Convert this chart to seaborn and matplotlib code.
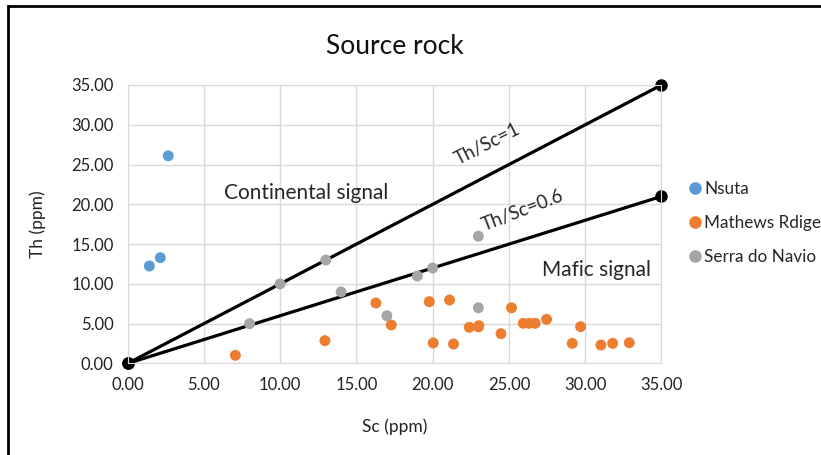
import pandas as pd
import numpy as np
import seaborn as sns
from matplotlib import pyplot as plt
from matplotlib.ticker import FormatStrFormatter
from matplotlib.patches import Rectangle

# data
nsuta_sc = [1.43, 2.15, 2.67]
nsuta_th = [12.25, 13.3, 26.1]

mathews_sc = [7.07, 12.94, 16.28, 17.29, 19.78, 21.11, 20.04, 21.37, 22.4, 23.0, 23.03,
              24.48, 25.17, 25.94, 26.33, 26.72, 27.47, 29.15, 29.7, 31.03, 31.8, 32.89]
mathews_th = [1.03, 2.87, 7.6, 4.84, 7.77, 7.98, 2.58, 2.45, 4.55, 4.6, 4.75,
              3.75, 7.0, 5.05, 5.05, 5.05, 5.55, 2.53, 4.63, 2.32, 2.53, 2.61]

serra_sc = [8.0, 10.0, 13.0, 14.0, 17.0, 19.0, 20.0, 23.0, 23.0]
serra_th = [5.0, 10.0, 13.0, 9.0, 6.0, 11.0, 12.0, 16.0, 7.0]

line1_sc = [0, 35]
line1_th = [0, 35]
line2_sc = [0, 35]
line2_th = [0, 21]

groups = ['Nsuta', 'Mathews Rdige', 'Serra do Navio']
colors = ['#5B9BD5', '#ED7D31', '#A5A5A5']

df = pd.DataFrame({
    'Sc': nsuta_sc + mathews_sc + serra_sc,
    'Th': nsuta_th + mathews_th + serra_th,
    'group': ['Nsuta'] * len(nsuta_sc) + ['Mathews Rdige'] * len(mathews_sc) + ['Serra do Navio'] * len(serra_sc),
})

sns.set_style('white')
plt.rcParams['font.family'] = ['Lato', 'DejaVu Sans']

fig = plt.figure(figsize=(8.21, 4.55), dpi=100)
ax = fig.add_axes([0.1553, 0.2011, 0.6504, 0.6121])

sns.scatterplot(data=df, x='Sc', y='Th', hue='group', hue_order=groups, palette=colors,
                s=62, edgecolor='none', ax=ax, zorder=3, clip_on=False)

ax.plot(line1_sc, line1_th, color='black', lw=2.3, marker='o', ms=8, zorder=2, clip_on=False)
ax.plot(line2_sc, line2_th, color='black', lw=2.3, marker='o', ms=8, zorder=2, clip_on=False)

ax.set_xlim(0, 35)
ax.set_ylim(0, 35)
ax.set_xticks(np.arange(0, 36, 5))
ax.set_yticks(np.arange(0, 36, 5))
ax.xaxis.set_major_formatter(FormatStrFormatter('%.2f'))
ax.yaxis.set_major_formatter(FormatStrFormatter('%.2f'))
ax.tick_params(length=0, labelsize=12, colors='#222222', pad=10)
ax.grid(True, color='#d9d9d9', lw=1)
ax.set_axisbelow(True)
for s in ax.spines.values():
    s.set_color('#d9d9d9')

ax.set_xlabel('Sc (ppm)', fontsize=12.5, color='#222222', labelpad=18)
ax.set_ylabel('Th (ppm)', fontsize=12.5, color='#222222', labelpad=18)
ax.set_title('Source rock', fontsize=19, color='#111111', pad=22)

ax.text(6.3, 21.4, 'Continental signal', fontsize=15, va='center', ha='left')
ax.text(27.2, 11.75, 'Mafic signal', fontsize=15, va='center', ha='left')
ax.text(23.6, 27.6, 'Th/Sc=1', fontsize=13.5, rotation=27, ha='center', va='center')
ax.text(25.9, 19.2, 'Th/Sc=0.6', fontsize=13.5, rotation=21, ha='center', va='center')

leg = ax.legend(loc='upper left', bbox_to_anchor=(687 / 821, 1 - 181 / 455),
                bbox_transform=fig.transFigure, frameon=False, fontsize=12.3,
                handlelength=0.9, handletextpad=0.1, labelspacing=1.05,
                borderpad=0, borderaxespad=0, markerscale=1.15)

fig.patches.append(Rectangle((8 / 821, -0.1), 1.2, 1 - 6 / 455 + 0.1, transform=fig.transFigure,
                             fill=False, edgecolor='black', lw=2, zorder=10))

plt.savefig('out.png', dpi=100)
